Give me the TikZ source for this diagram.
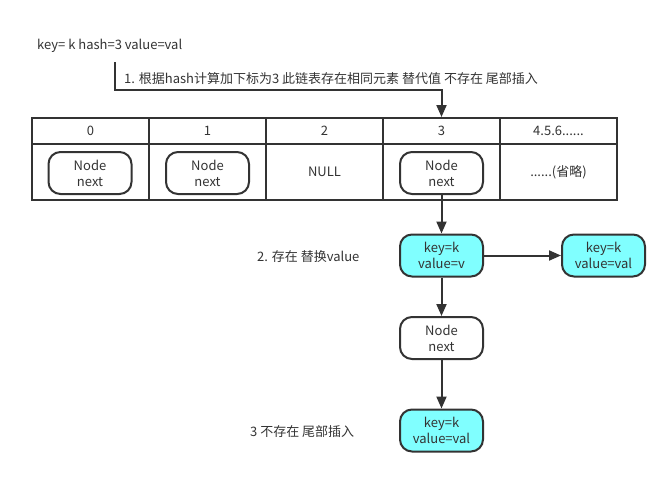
\documentclass[tikz,border=0pt]{standalone}
\usepackage{fontspec}
\setmainfont{Noto Sans CJK SC}
\usetikzlibrary{arrows.meta}
\definecolor{ink}{HTML}{333333}
\definecolor{aqua}{HTML}{80FFFF}
\begin{document}
\begin{tikzpicture}[x=1pt,y=-1pt,
  every node/.style={font=\fontsize{13}{16}\selectfont, text=ink},
  cellhead/.style={draw=ink, line width=2pt, minimum width=117pt, minimum height=26pt, inner sep=0pt},
  cellbody/.style={draw=ink, line width=2pt, minimum width=117pt, minimum height=56pt, inner sep=0pt},
  listnode/.style={draw=ink, line width=2pt, rounded corners=12pt, minimum width=83pt, minimum height=42pt, align=center, inner sep=0pt},
  entrynode/.style={listnode, fill=aqua},
  arr/.style={draw=ink, line width=2pt, -{Triangle[length=12pt,width=10pt]}},
  lbl/.style={anchor=west, inner sep=0pt}
]
\useasboundingbox (0,0) rectangle (670,477);
% table
\foreach \i/\t in {0/0,1/1,2/2,3/3,4/{4.5.6......}} {
  \node[cellhead] (h\i) at (90.5+117*\i,131) {\t};
}
\node[cellbody] (c0) at (90.5,172) {};
\node[cellbody] (c1) at (207.5,172) {};
\node[cellbody] (c2) at (324.5,172) {NULL};
\node[cellbody] (c3) at (441.5,172) {};
\node[cellbody] (c4) at (558.5,172) {......(省略)};
\node[listnode] (n0) at (90,173) {Node\\next};
\node[listnode] (n1) at (207.5,173) {Node\\next};
\node[listnode] (n3) at (441.5,173) {Node\\next};
% chain
\node[entrynode] (e1) at (441.5,255.5) {key=k\\value=v};
\node[entrynode] (e2) at (603.5,255.5) {key=k\\value=val};
\node[listnode] (nx) at (441.5,338) {Node\\next};
\node[entrynode] (e3) at (441.5,430.5) {key=k\\value=val};
% labels
\node[lbl] (t0) at (37,45.5) {key= k hash=3 value=val};
\node[lbl] (t1) at (124,79) {1. 根据hash计算加下标为3 此链表存在相同元素 替代值 不存在 尾部插入};
\node[lbl] (t2) at (257,257) {2. 存在 替换value};
\node[lbl] (t3) at (250,432) {3 不存在 尾部插入};
% connectors
\coordinate (s) at (115,62);
\coordinate (bend) at (115,90);
\draw[arr] (s) -- (bend) -| (h3.north);
\draw[arr] (n3) -- (e1);
\draw[arr] (e1) -- (e2);
\draw[arr] (e1) -- (nx);
\draw[arr] (nx) -- (e3);
\end{tikzpicture}
\end{document}
